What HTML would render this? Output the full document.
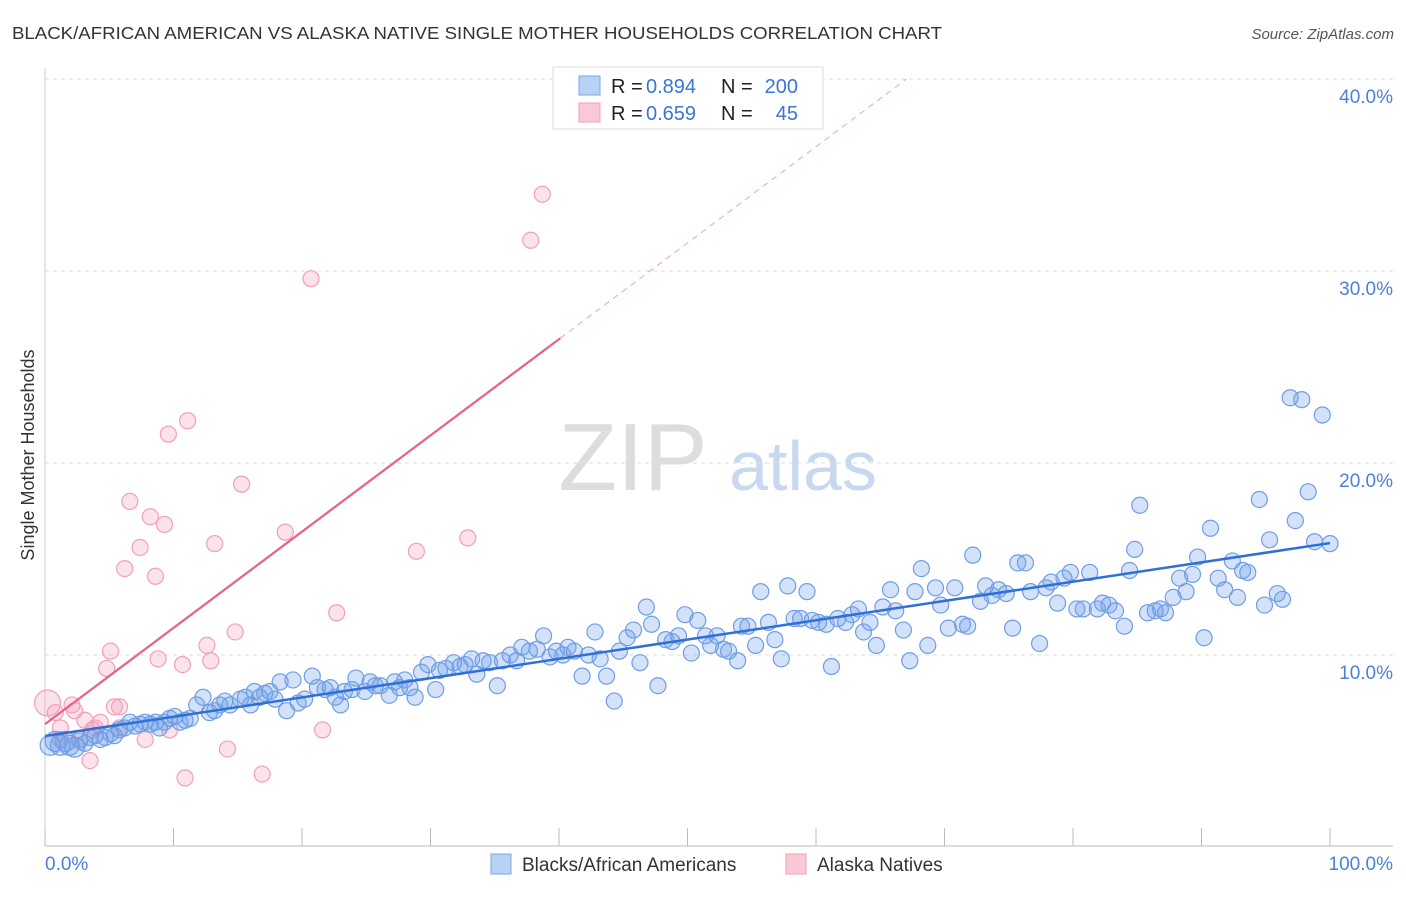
<!DOCTYPE html>
<html><head><meta charset="utf-8"><style>
body{margin:0;background:#fff;font-family:"Liberation Sans",sans-serif;}
svg text{font-family:"Liberation Sans",sans-serif;}
</style></head><body>
<svg id="chart" width="1406" height="892" xmlns="http://www.w3.org/2000/svg">
<text x="12" y="39" font-size="17.5" fill="#333" textLength="930" lengthAdjust="spacingAndGlyphs">BLACK/AFRICAN AMERICAN VS ALASKA NATIVE SINGLE MOTHER HOUSEHOLDS CORRELATION CHART</text>
<text x="1394" y="39" font-size="15" fill="#555" font-style="italic" text-anchor="end">Source: ZipAtlas.com</text>
<text x="34" y="455" font-size="18" fill="#333" text-anchor="middle" transform="rotate(-90 34 455)">Single Mother Households</text>
<g><text x="633" y="490" font-size="96" fill="#ddd" font-family="Liberation Serif" text-anchor="middle">ZIP</text><text x="803" y="490" font-size="70" fill="#c8d8f0" text-anchor="middle">atlas</text></g>
<g id="grid"></g>
<g id="axes"></g>
<g id="pts"></g>
<g id="lines"></g>
<g>
<rect x="553" y="67" width="270" height="62" fill="#fff" stroke="#ddd"/>
<rect x="579" y="76" width="21" height="19" fill="#b8d2f5" stroke="#7aa6e6"/>
<rect x="579" y="103" width="21" height="19" fill="#fbc8d6" stroke="#f0a0b8"/>
<text x="611" y="93" font-size="20" fill="#222">R =</text>
<text x="646" y="93" font-size="20" fill="#3a75d6">0.894</text>
<text x="721" y="93" font-size="20" fill="#222">N =</text>
<text x="798" y="93" font-size="20" fill="#3a75d6" text-anchor="end">200</text>
<text x="611" y="120" font-size="20" fill="#222">R =</text>
<text x="646" y="120" font-size="20" fill="#3a75d6">0.659</text>
<text x="721" y="120" font-size="20" fill="#222">N =</text>
<text x="798" y="120" font-size="20" fill="#3a75d6" text-anchor="end">45</text>
</g>
<g>
<rect x="491" y="854" width="20" height="20" fill="#b8d2f5" stroke="#7aa6e6"/>
<text x="522" y="871" font-size="19" fill="#333">Blacks/African Americans</text>
<rect x="786" y="854" width="20" height="20" fill="#fbc8d6" stroke="#f0a0b8"/>
<text x="817" y="871" font-size="19" fill="#333">Alaska Natives</text>
</g>
</svg>
<script>
const blueX=[0.4,0.8,1.2,1.6,1.9,2.3,2.7,3.1,3.5,3.9,4.3,4.7,5.1,5.4,5.8,6.2,6.6,7.0,7.4,7.8,8.2,8.6,8.9,9.3,9.7,10.1,10.5,10.9,11.3,11.8,12.3,12.8,13.2,13.6,14.0,14.4,15.2,15.6,16.0,16.3,16.7,17.1,17.5,17.9,18.3,18.8,19.3,19.7,20.2,20.8,21.2,21.8,22.2,22.6,23.0,23.3,23.9,24.2,24.9,25.3,25.7,26.1,26.8,27.2,27.6,28.0,28.4,28.8,29.3,29.8,30.4,30.7,31.2,31.8,32.3,32.7,33.2,33.6,34.1,34.6,35.2,35.6,36.2,36.7,37.1,37.7,38.3,38.8,39.3,39.8,40.3,40.7,41.2,41.8,42.3,42.8,43.2,43.7,44.3,44.7,45.3,45.8,46.3,46.8,47.2,47.7,48.3,48.8,49.3,49.8,50.3,50.8,51.4,51.8,52.3,52.8,53.2,53.9,54.2,54.7,55.3,55.7,56.3,56.8,57.3,57.8,58.3,58.8,59.3,59.7,60.2,60.8,61.2,61.7,62.3,62.8,63.3,63.7,64.2,64.7,65.2,65.8,66.2,66.8,67.3,67.7,68.2,68.7,69.3,69.7,70.3,70.8,71.4,71.8,72.2,72.8,73.2,73.7,74.2,74.8,75.3,75.7,76.3,76.7,77.4,77.9,78.3,78.8,79.3,79.8,80.3,80.8,81.3,81.9,82.3,82.8,83.3,84.0,84.4,84.8,85.2,85.8,86.4,86.8,87.2,87.8,88.3,88.8,89.3,89.7,90.2,90.7,91.3,91.8,92.4,92.8,93.2,93.6,94.5,94.9,95.3,95.9,96.3,96.9,97.3,97.8,98.3,98.8,99.4,100];
const blueY=[5.3,5.5,5.3,5.5,5.3,5.2,5.6,5.4,5.7,5.8,5.6,5.7,5.9,5.8,6.1,6.2,6.5,6.3,6.4,6.5,6.4,6.5,6.2,6.5,6.7,6.8,6.5,6.6,6.7,7.4,7.8,7.0,7.1,7.4,7.6,7.4,7.7,7.8,7.4,8.1,7.8,8.0,8.1,7.7,8.6,7.1,8.7,7.5,7.7,8.9,8.3,8.2,8.3,7.8,7.4,8.1,8.2,8.8,8.1,8.6,8.4,8.4,7.9,8.6,8.3,8.7,8.3,7.8,9.1,9.5,8.2,9.2,9.3,9.6,9.4,9.5,9.8,9.0,9.7,9.6,8.4,9.7,10.0,9.7,10.4,10.2,10.3,11.0,9.9,10.2,10.0,10.4,10.2,8.9,10.0,11.2,9.8,8.9,7.6,10.2,10.9,11.3,9.6,12.5,11.6,8.4,10.8,10.7,11.0,12.1,10.1,11.8,11.0,10.5,11.0,10.3,10.2,9.7,11.5,11.5,10.5,13.3,11.7,10.8,9.8,13.6,11.9,11.9,13.3,11.8,11.7,11.6,9.4,11.9,11.7,12.1,12.4,11.2,11.7,10.5,12.5,13.4,12.3,11.3,9.7,13.3,14.5,10.5,13.5,12.6,11.4,13.5,11.6,11.5,15.2,12.8,13.6,13.1,13.4,13.2,11.4,14.8,14.8,13.3,10.6,13.5,13.8,12.7,14.0,14.3,12.4,12.4,14.3,12.4,12.7,12.6,12.3,11.5,14.4,15.5,17.8,12.2,12.3,12.4,12.2,13.0,14.0,13.3,14.2,15.1,10.9,16.6,14.0,13.4,14.9,13.0,14.4,14.3,18.1,12.6,16.0,13.2,12.9,23.4,17.0,23.3,18.5,15.9,22.5,15.8];
const pinkX=[0.2,0.8,1.2,2.1,2.3,2.7,3.1,3.5,3.9,4.3,4.8,5.1,5.4,5.8,6.2,6.6,7.4,7.8,8.2,8.6,8.8,9.3,9.6,9.7,10.7,10.9,11.1,12.6,12.9,13.2,14.2,14.8,15.3,16.9,18.7,20.7,21.6,22.7,28.9,32.9,37.8,38.7,1.2,3.7,5.8];
const pinkY=[7.5,7.0,6.2,7.4,7.1,5.5,6.6,4.5,6.2,6.5,9.3,10.2,7.3,6.2,14.5,18.0,15.6,5.6,17.2,14.1,9.8,16.8,21.5,6.1,9.5,3.6,22.2,10.5,9.7,15.8,5.1,11.2,18.9,3.8,16.4,29.6,6.1,12.2,15.4,16.1,31.6,34.0,5.6,6.1,7.3];
const blueTrend=[5.78,15.83];
const pinkTrend=[6.4,26.5];
const pinkTrendEndX=40.1;
const yTicks=[10,20,30,40];
const xTickVals=[0,10,20,30,40,50,60,70,80,90,100];

const NS="http://www.w3.org/2000/svg";
const sx=v=>45+v*12.85;
const sy=v=>847-v*19.2;
function mk(tag,attrs,parent){const e=document.createElementNS(NS,tag);for(const k in attrs)e.setAttribute(k,attrs[k]);parent.appendChild(e);return e;}
const grid=document.getElementById('grid'),axes=document.getElementById('axes'),pts=document.getElementById('pts'),lines=document.getElementById('lines');
yTicks.forEach(t=>{
  const l=mk('line',{x1:45,x2:1393,y1:sy(t),y2:sy(t),stroke:'#ddd','stroke-dasharray':'4,4'},grid);
  
  
  const tx=mk('text',{x:1393,y:sy(t)+24,'font-size':19,fill:'#4a7fdb','text-anchor':'end'},axes);
  tx.textContent=t.toFixed(1)+'%';
  
  
});
const ax=mk('line',{x1:45,x2:1393,y1:846,y2:846,stroke:'#bbb'},axes);


const ay=mk('line',{x1:45,x2:45,y1:68,y2:846,stroke:'#ccc'},axes);


xTickVals.forEach(t=>{
  const l=mk('line',{x1:sx(t),x2:sx(t),y1:828,y2:846,stroke:'#bbb'},axes);
  
  
});
const xl0=mk('text',{x:45,y:870,'font-size':19,fill:'#4a7fdb'},axes);xl0.textContent='0.0%';


const xl1=mk('text',{x:1393,y:870,'font-size':19,fill:'#4a7fdb','text-anchor':'end'},axes);xl1.textContent='100.0%';



pinkX.forEach((x,i)=>{
  const c=mk('circle',{cx:sx(x),cy:sy(pinkY[i]),r:i===0?13:8,fill:'rgba(245,160,190,0.3)',stroke:'#f0a0b8','stroke-width':1.2},pts);
  
  
});
blueX.forEach((x,i)=>{
  const c=mk('circle',{cx:sx(x),cy:sy(blueY[i]),r:i<6?10:8,fill:'rgba(110,160,235,0.3)',stroke:'#6f9de4','stroke-width':1.2},pts);
  
  
});
const bl=mk('line',{x1:sx(0),y1:sy(blueTrend[0]),x2:sx(100),y2:sy(blueTrend[1]),stroke:'#2f6fd6','stroke-width':2.5},lines);


const pl=mk('line',{x1:sx(0),y1:sy(pinkTrend[0]),x2:sx(pinkTrendEndX),y2:sy(pinkTrend[1]),stroke:'#e8608a','stroke-width':2.2},lines);


const slope=(pinkTrend[1]-pinkTrend[0])/pinkTrendEndX;
const xEnd=(40-pinkTrend[0])/slope;
const pd=mk('line',{x1:sx(pinkTrendEndX),y1:sy(pinkTrend[1]),x2:sx(xEnd),y2:sy(40),stroke:'#f0a0b8','stroke-width':1,'stroke-dasharray':'6,5'},lines);


</script>
</body></html>
